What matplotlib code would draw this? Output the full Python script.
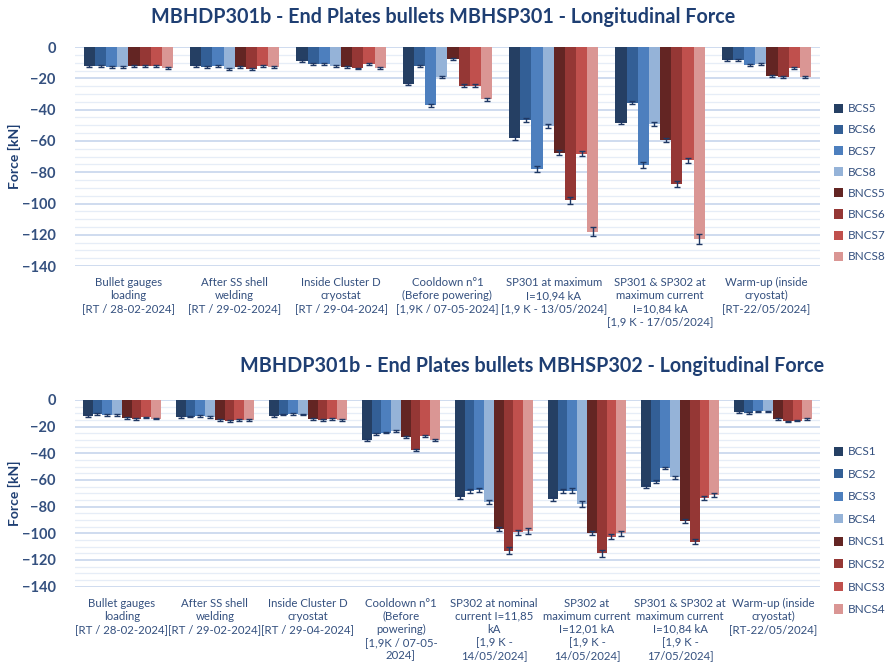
import numpy as np
import matplotlib
matplotlib.use("Agg")
import matplotlib.pyplot as plt
from matplotlib.ticker import MultipleLocator

plt.rcParams['font.family'] = ['Lato', 'DejaVu Sans']

# ---- top chart data (MBHSP301) ----
top_title = "MBHDP301b - End Plates bullets MBHSP301 - Longitudinal Force"
top_cats = ["Bullet gauges\nloading\n[RT / 28-02-2024]",
            "After SS shell\nwelding\n[RT / 29-02-2024]",
            "Inside Cluster D\ncryostat\n[RT / 29-04-2024]",
            "Cooldown n\u00b01\n(Before powering)\n[1,9K / 07-05-2024]",
            "SP301 at maximum\nI=10,94 kA\n[1,9 K - 13/05/2024]",
            "SP301 & SP302 at\nmaximum current\nI=10,84 kA\n[1,9 K - 17/05/2024]",
            "Warm-up (inside\ncryostat)\n[RT-22/05/2024]"]
top_series = ["BCS5", "BCS6", "BCS7", "BCS8", "BNCS5", "BNCS6", "BNCS7", "BNCS8"]
top_vals = [
    [-12.0, -12.0, -9.0, -23.7, -58.3, -48.3, -8.3],    # BCS5
    [-12.0, -12.5, -11.0, -12.0, -46.8, -35.5, -8.3],   # BCS6
    [-12.5, -12.0, -11.0, -37.2, -77.8, -75.6, -11.5],  # BCS7
    [-13.0, -14.0, -12.0, -19.0, -50.6, -49.4, -11.0],  # BCS8
    [-12.0, -13.0, -13.0, -7.5, -67.5, -59.6, -18.4],   # BNCS5
    [-12.0, -14.0, -13.7, -24.8, -98.0, -87.4, -19.0],  # BNCS6
    [-12.0, -12.0, -10.9, -24.8, -68.2, -72.4, -13.2],  # BNCS7
    [-13.5, -13.0, -13.2, -33.5, -118.0, -122.6, -19.0],  # BNCS8
]
top_err = [
    [0.6, 0.6, 0.6, 0.8, 1.2, 1.0, 0.6],
    [0.6, 0.6, 0.6, 0.6, 1.2, 1.0, 0.6],
    [0.6, 0.6, 0.6, 1.0, 2.0, 2.0, 0.6],
    [0.6, 0.6, 0.6, 0.6, 1.2, 1.2, 0.6],
    [0.6, 0.6, 0.6, 0.6, 1.5, 1.2, 0.6],
    [0.6, 0.6, 0.6, 1.0, 2.0, 2.0, 0.6],
    [0.6, 0.6, 0.6, 1.0, 1.5, 1.5, 0.6],
    [0.8, 0.6, 0.6, 1.0, 3.0, 3.0, 0.6],
]

# ---- bottom chart data (MBHSP302) ----
bot_title = "MBHDP301b - End Plates bullets MBHSP302 - Longitudinal Force"
bot_cats = ["Bullet gauges\nloading\n[RT / 28-02-2024]",
            "After SS shell\nwelding\n[RT / 29-02-2024]",
            "Inside Cluster D\ncryostat\n[RT / 29-04-2024]",
            "Cooldown n\u00b01\n(Before\npowering)\n[1,9K / 07-05-\n2024]",
            "SP302 at nominal\ncurrent I=11,85\nkA\n[1,9 K -\n14/05/2024]",
            "SP302 at\nmaximum current\nI=12,01 kA\n[1,9 K -\n14/05/2024]",
            "SP301 & SP302 at\nmaximum current\nI=10,84 kA\n[1,9 K -\n17/05/2024]",
            "Warm-up (inside\ncryostat)\n[RT-22/05/2024]"]
bot_series = ["BCS1", "BCS2", "BCS3", "BCS4", "BNCS1", "BNCS2", "BNCS3", "BNCS4"]
bot_vals = [
    [-12.0, -13.0, -12.0, -30.0, -73.0, -74.2, -65.0, -9.2],     # BCS1
    [-10.7, -12.5, -11.0, -25.5, -68.2, -68.2, -61.2, -10.0],    # BCS2
    [-11.5, -12.0, -10.7, -24.5, -67.5, -68.2, -51.2, -8.7],     # BCS3
    [-11.5, -13.0, -11.0, -23.2, -76.2, -78.0, -58.0, -8.7],     # BCS4
    [-13.5, -15.0, -14.5, -28.0, -96.7, -100.0, -90.5, -14.2],   # BNCS1
    [-14.5, -15.7, -15.0, -37.5, -113.0, -115.0, -106.2, -16.2],  # BNCS2
    [-13.2, -15.0, -14.5, -27.0, -99.2, -102.5, -73.7, -15.5],   # BNCS3
    [-14.0, -15.0, -15.0, -30.0, -98.2, -100.0, -71.2, -14.2],   # BNCS4
]
bot_err = [
    [0.6, 0.6, 0.6, 0.8, 1.5, 1.5, 1.2, 0.6],
    [0.6, 0.6, 0.6, 0.6, 1.5, 1.5, 1.2, 0.6],
    [0.6, 0.6, 0.6, 0.6, 1.8, 1.8, 1.0, 0.6],
    [0.6, 0.6, 0.6, 0.6, 1.5, 2.0, 1.0, 0.6],
    [0.6, 0.6, 0.6, 0.6, 1.5, 1.5, 1.5, 0.6],
    [0.6, 0.6, 0.6, 0.8, 2.5, 2.5, 2.0, 0.6],
    [0.6, 0.6, 0.6, 0.8, 2.0, 1.8, 1.5, 0.6],
    [0.6, 0.6, 0.6, 0.8, 2.0, 1.8, 1.5, 0.6],
]

colors = ["#253F63", "#335F96", "#4D7FBE", "#95B3D8",
          "#632523", "#953735", "#C0504D", "#DA9694"]
navy = "#1F3F73"
tick_col = "#34507F"


def draw(ax, cats, series, vals, errs):
    n = len(series)
    x = np.arange(len(cats))
    group = 0.84
    w = group / n
    for i in range(n):
        pos = x - group / 2 + w * (i + 0.5)
        ax.bar(pos, vals[i], width=w, color=colors[i], label=series[i],
               zorder=3, linewidth=0)
        ax.errorbar(pos, vals[i], yerr=errs[i], fmt='none', ecolor="#1F3864",
                    elinewidth=1.0, capsize=2.2, capthick=1.0, zorder=4)
    ax.set_xlim(-0.5, len(cats) - 0.5)
    ax.set_ylim(-140, 0)
    ax.yaxis.set_major_locator(MultipleLocator(20))
    ax.yaxis.set_minor_locator(MultipleLocator(5))
    ax.grid(which='major', axis='y', color="#CBD9EE", linewidth=1.3, zorder=0)
    ax.grid(which='minor', axis='y', color="#E6EDF7", linewidth=0.9, zorder=0)
    for s in ax.spines.values():
        s.set_visible(False)
    ax.set_xticks(x)
    ax.set_xticklabels(cats, fontsize=8.2, color=tick_col, linespacing=1.22)
    ax.tick_params(axis='x', length=0, pad=8)
    ax.tick_params(axis='y', which='both', length=0, labelsize=10.5, labelcolor=tick_col, pad=14)
    for t in ax.get_yticklabels():
        t.set_fontweight('bold')
    ax.set_ylabel("Force [kN]", fontsize=10, fontweight='bold', color=navy)
    ax.yaxis.set_label_coords(-0.0726, 0.5)


fig = plt.figure(figsize=(8.86, 6.72), dpi=100)

ax1 = fig.add_axes([0.085, 0.604, 0.84, 0.326])
draw(ax1, top_cats, top_series, top_vals, top_err)
fig.text(0.5, 0.975, top_title, ha='center', va='center', fontsize=14.2,
         fontweight='bold', color=navy)
ax1.legend(loc='center left', bbox_to_anchor=(1.005, 0.38), frameon=False,
           fontsize=8.5, labelspacing=0.86, handlelength=0.8, handleheight=0.8,
           handletextpad=0.4, labelcolor=tick_col)

ax2 = fig.add_axes([0.085, 0.127, 0.84, 0.278])
draw(ax2, bot_cats, bot_series, bot_vals, bot_err)
fig.text(0.6, 0.456, bot_title, ha='center', va='center', fontsize=14.2,
         fontweight='bold', color=navy)
ax2.legend(loc='center left', bbox_to_anchor=(1.005, 0.30), frameon=False,
           fontsize=8.5, labelspacing=0.98, handlelength=0.8, handleheight=0.8,
           handletextpad=0.4, labelcolor=tick_col)

fig.savefig("out.png", dpi=100)
